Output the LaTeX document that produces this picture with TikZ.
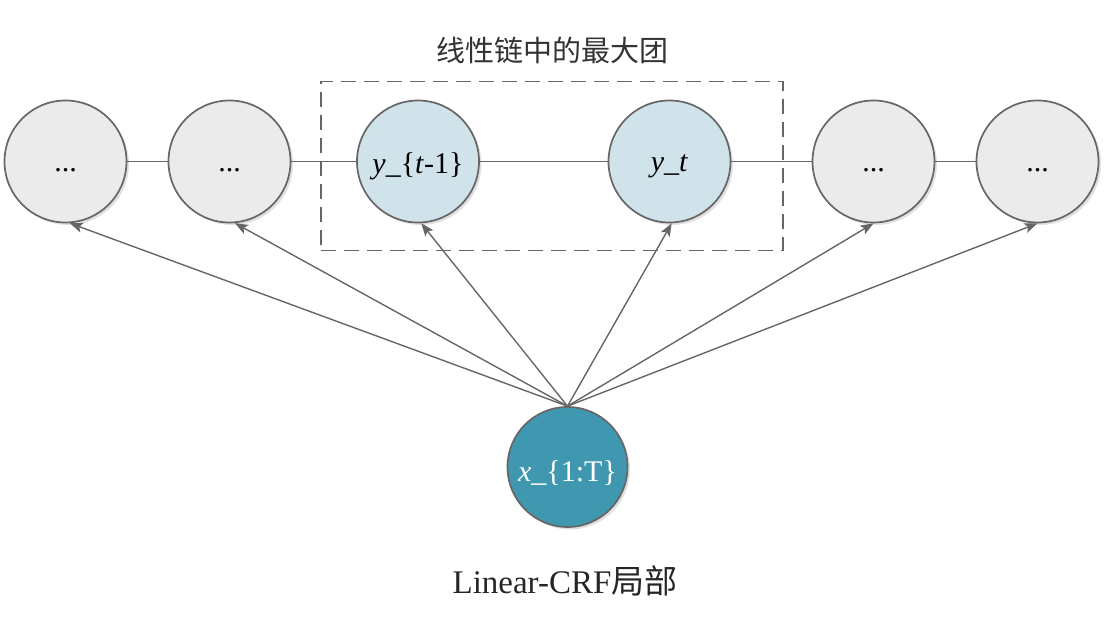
\documentclass[tikz,border=0pt]{standalone}
\usepackage{fontspec}
\setmainfont{Liberation Serif}
\newfontfamily\cjk{Noto Sans CJK SC}
\usetikzlibrary{arrows.meta,shadows}
\definecolor{strokegray}{HTML}{666666}
\definecolor{grayfill}{HTML}{EBEBEB}
\definecolor{bluefill}{HTML}{D1E3EA}
\definecolor{tealfill}{HTML}{4097B0}
\tikzset{
  state/.style={circle, draw=strokegray, line width=1.7pt, minimum size=122pt, inner sep=0pt,
    font=\fontsize{30}{34}\selectfont,
    drop shadow={shadow xshift=2.5pt, shadow yshift=-2.5pt, opacity=0.12, fill=black}},
  grayst/.style={state, fill=grayfill},
  bluest/.style={state, fill=bluefill},
  tealst/.style={state, fill=tealfill, text=white, minimum size=120pt},
  lbl/.style={font=\fontsize{30}{34}\selectfont, inner sep=0pt},
  link/.style={draw=strokegray, line width=1.4pt},
  arr/.style={draw=strokegray, line width=1.4pt, -{Stealth[length=13pt,width=10pt,inset=3pt]}},
  clique/.style={draw=strokegray, line width=1.6pt, dash pattern=on 15pt off 8pt},
}
\begin{document}
\begin{tikzpicture}[x=1pt,y=-1pt]
\useasboundingbox (0,0) rectangle (1104,628);
\node[clique, minimum width=462pt, minimum height=169pt, inner sep=0pt] (box) at (552,166) {};
\node[grayst] (n1) at (65.5,161.5) {};
\node[grayst] (n2) at (229.5,161.5) {};
\node[bluest] (ya) at (418,161.5) {};
\node[bluest] (yb) at (669.5,161.5) {};
\node[grayst] (n3) at (873.5,161.5) {};
\node[grayst] (n4) at (1037.5,161.5) {};
\foreach \n in {n1,n2,n3,n4}{
  \node[lbl] (\n dots) at ([yshift=-9pt]\n.center) {...};
}
\node[lbl] (yalbl) at ([yshift=-5pt]ya.center) {\textit{y}\_\{\textit{t}-1\}};
\node[lbl] (yblbl) at ([yshift=-5pt]yb.center) {\textit{y}\_\textit{t}};
\node[tealst] (x) at (567.5,467) {};
\node[lbl, text=white] (xlbl) at ([yshift=-6pt]x.center) {\textit{x}\_\{1:T\}};
\draw[link] (n1) -- (n2);
\draw[link] (n2) -- (ya);
\draw[link] (ya) -- (yb);
\draw[link] (yb) -- (n3);
\draw[link] (n3) -- (n4);
\draw[arr] (x.north) -- (n1.-86);
\draw[arr] (x.north) -- (n2.-85);
\draw[arr] (x.north) -- (ya.-87);
\draw[arr] (x.north) -- (yb.-88);
\draw[arr] (x.north) -- (n3.-90);
\draw[arr] (x.north) -- (n4.-90);
\node[font=\cjk\fontsize{29}{34}\selectfont, text=black!80] (title) at (552.5,50) {线性链中的最大团};
\node[font=\fontsize{33}{38}\selectfont, text=black!85] (cap) at (565,581) {Linear-CRF{\cjk 局部}};
\end{tikzpicture}
\end{document}
